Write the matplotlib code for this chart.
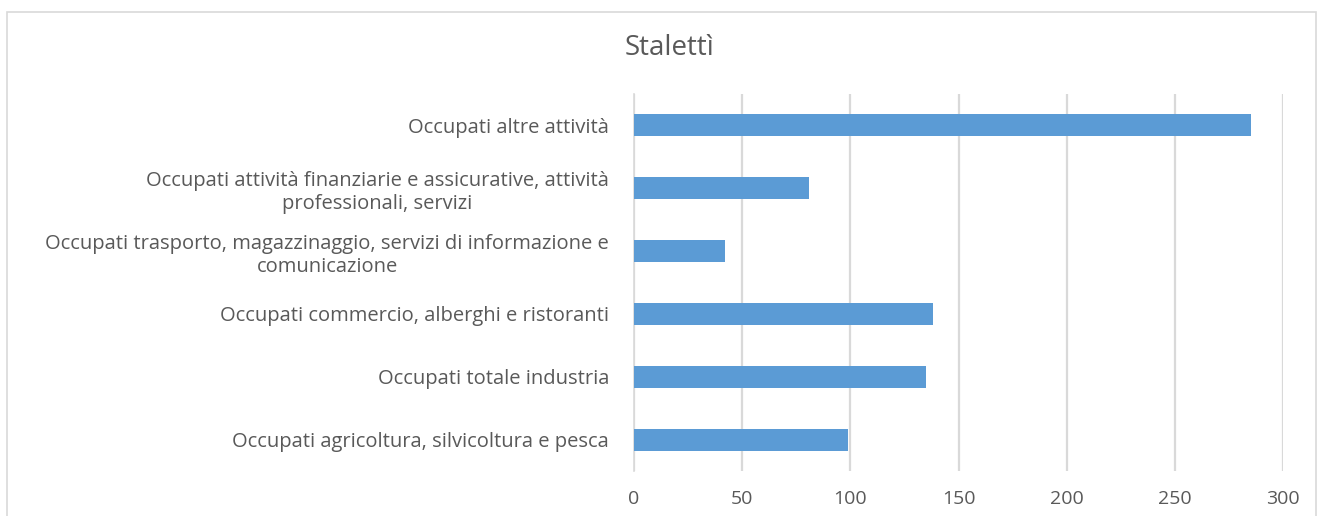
import matplotlib.pyplot as plt
from matplotlib.patches import Rectangle

categorie = [
    "Occupati agricoltura, silvicoltura e pesca",
    "Occupati totale industria",
    "Occupati commercio, alberghi e ristoranti",
    "Occupati trasporto, magazzinaggio, servizi di informazione e\ncomunicazione",
    "Occupati attività finanziarie e assicurative, attività\nprofessionali, servizi",
    "Occupati altre attività",
]
occupati = [99, 135, 138, 42, 81, 285]
x_ticks = [0, 50, 100, 150, 200, 250, 300]

plt.rcParams['font.family'] = ['Open Sans', 'DejaVu Sans']
grigio = '#595959'

fig = plt.figure(figsize=(13.21, 5.16), dpi=100)
ax = fig.add_axes([634 / 1321, 1 - 471 / 516, 649 / 1321, 377 / 516])

ax.barh(range(len(categorie)), occupati, height=0.35, color='#5B9BD5', zorder=3)
ax.set_xlim(0, 300)
ax.set_ylim(-0.5, len(categorie) - 0.5)
ax.set_xticks(x_ticks)
ax.set_yticks(range(len(categorie)))
ax.set_yticklabels(categorie, multialignment='center', linespacing=1.25)
ax.tick_params(axis='both', length=0, colors=grigio)
ax.tick_params(axis='y', pad=18, labelsize=14.5)
ax.tick_params(axis='x', pad=14, labelsize=14)
ax.grid(axis='x', color='#D9D9D9', linewidth=1.6, zorder=0)
for s in ['top', 'right', 'bottom']:
    ax.spines[s].set_visible(False)
ax.spines['left'].set_color('#D9D9D9')
ax.spines['left'].set_linewidth(1.2)

fig.text(669 / 1321, 1 - 48 / 516, "Stalettì", ha='center', va='center',
         fontsize=20, color=grigio)

# bordo del grafico
fig.patches.append(Rectangle((7 / 1321, -0.02), 1309 / 1321, 1 - 12 / 516 + 0.02,
                             transform=fig.transFigure, fill=False,
                             edgecolor='#D9D9D9', linewidth=1.2))

fig.savefig("out.png", dpi=100)
